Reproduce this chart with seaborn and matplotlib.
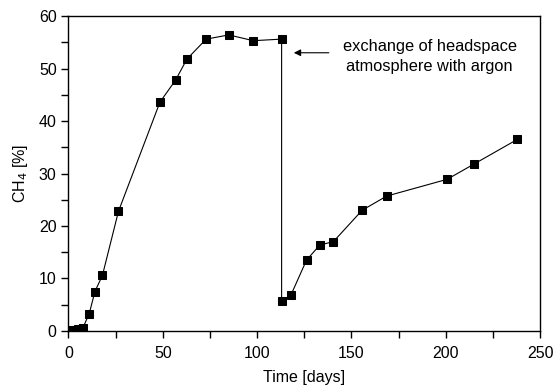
import matplotlib.pyplot as plt
import numpy as np
import pandas as pd
import seaborn as sns
from matplotlib.ticker import MultipleLocator

# CH4 content in the headspace over time
days = [0, 1, 2, 3, 4, 5, 6, 7.5, 11, 14, 18, 26.5,
        48.5, 56.8, 62.8, 73, 85, 98, 113,
        113, 118, 126.2, 133.3, 140.4, 155.7, 168.7, 200.8, 215, 238]
ch4 = [0, 0.05, 0.1, 0.15, 0.2, 0.3, 0.35, 0.5, 3.3, 7.5, 10.6, 22.8,
       43.6, 47.8, 51.8, 55.6, 56.4, 55.3, 55.6,
       5.7, 6.9, 13.5, 16.4, 17.0, 23.0, 25.7, 28.9, 31.8, 36.5]

df = pd.DataFrame({'day': days, 'ch4': ch4})

sns.set_style('ticks')
plt.rcParams['font.family'] = ['Liberation Sans', 'DejaVu Sans']
plt.rcParams['text.color'] = 'black'
plt.rcParams['axes.labelcolor'] = 'black'

fig = plt.figure(figsize=(5.55, 3.86), dpi=100)
ax = fig.add_axes([0.1234, 0.1425, 0.973 - 0.1234, 0.9585 - 0.1425])

sns.lineplot(data=df, x='day', y='ch4', ax=ax, sort=False, estimator=None,
             color='black', linewidth=0.8, marker='s', markersize=6.3,
             markeredgecolor='black')

ax.set_xlim(0, 250)
ax.set_ylim(0, 60)
ax.xaxis.set_major_locator(MultipleLocator(50))
ax.xaxis.set_minor_locator(MultipleLocator(25))
ax.yaxis.set_major_locator(MultipleLocator(10))
ax.yaxis.set_minor_locator(MultipleLocator(5))
ax.tick_params(which='both', direction='out', length=5, width=1,
               labelsize=11.5, colors='black', top=False, right=False)
ax.tick_params(axis='x', pad=5.5)
for s in ax.spines.values():
    s.set_visible(True)
    s.set_linewidth(1)
    s.set_color('black')

ax.set_xlabel('Time [days]', fontsize=11.5, labelpad=7)
ax.set_ylabel('CH$_4$ [%]', fontsize=11.5, labelpad=6)

ax.annotate('', xy=(118, 53.0), xytext=(139.5, 53.0),
            arrowprops=dict(arrowstyle='-|>', color='black', lw=0.8,
                            mutation_scale=10))
ax.text(191.5, 52.3, 'exchange of headspace\natmosphere with argon',
        ha='center', va='center', fontsize=11.8, linespacing=1.35)

fig.savefig('out.png', dpi=100)
